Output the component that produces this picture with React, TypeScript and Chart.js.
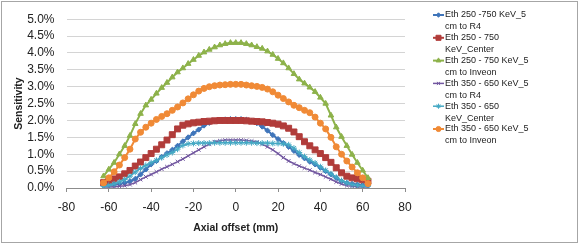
import React, { useEffect, useRef } from "react";
import { Chart, registerables } from "chart.js";
import { drawPoint } from "chart.js/helpers";

Chart.register(...registerables);

const axialOffsets = [
  -62.5, -60, -57.5, -55, -52.5, -50, -47.5, -45, -42.5, -40, -37.5, -35, -32.5, -30, -27.5, -25, -22.5, -20, -17.5, -15, -12.5, -10, -7.5, -5, -2.5,
  0, 2.5, 5, 7.5, 10, 12.5, 15, 17.5, 20, 22.5, 25, 27.5, 30, 32.5, 35, 37.5, 40, 42.5, 45, 47.5, 50, 52.5, 55, 57.5, 60, 62.5,
];

// Sensitivity in percent
const eth250_750_R4 = [
  0.08, 0.09, 0.1, 0.12, 0.15, 0.2, 0.27, 0.4, 0.55, 0.7, 0.8, 0.92, 1.03, 1.13, 1.25, 1.38, 1.5, 1.62, 1.73, 1.85, 1.93, 1.98, 2.02, 2.03, 2.04,
  2.04, 2.04, 2.02, 1.98, 1.92, 1.82, 1.7, 1.57, 1.45, 1.33, 1.22, 1.1, 0.98, 0.88, 0.78, 0.7, 0.6, 0.5, 0.4, 0.3, 0.2, 0.15, 0.12, 0.1, 0.09, 0.08,
];
const eth250_750_Center = [
  0.16, 0.22, 0.27, 0.33, 0.42, 0.52, 0.65, 0.77, 0.9, 1.02, 1.15, 1.28, 1.42, 1.58, 1.75, 1.86, 1.9, 1.93, 1.95, 1.97, 1.98, 1.99, 2.0, 2.0, 2.0,
  2.0, 2.0, 1.99, 1.98, 1.97, 1.96, 1.94, 1.92, 1.89, 1.84, 1.77, 1.66, 1.52, 1.37, 1.25, 1.13, 1.02, 0.9, 0.76, 0.6, 0.45, 0.35, 0.3, 0.27, 0.24, 0.2,
];
const eth250_750_Inveon = [
  0.35, 0.55, 0.75, 1.0, 1.25, 1.55, 1.9, 2.2, 2.45, 2.62, 2.8, 2.97, 3.12, 3.28, 3.43, 3.55, 3.68, 3.8, 3.92, 4.02, 4.1, 4.17, 4.23, 4.27, 4.3,
  4.3, 4.3, 4.27, 4.23, 4.18, 4.13, 4.05, 3.95, 3.83, 3.7, 3.55, 3.38, 3.22, 3.1, 2.98, 2.85, 2.68, 2.5, 2.15, 1.8, 1.52, 1.25, 0.99, 0.75, 0.52, 0.3,
];
const eth350_650_R4 = [
  0.03, 0.03, 0.04, 0.05, 0.07, 0.1, 0.16, 0.25, 0.33, 0.4, 0.48, 0.56, 0.63, 0.7, 0.78, 0.86, 0.95, 1.04, 1.13, 1.22, 1.3, 1.37, 1.4, 1.42, 1.42,
  1.42, 1.42, 1.41, 1.39, 1.36, 1.3, 1.22, 1.13, 1.02, 0.9, 0.8, 0.72, 0.65, 0.59, 0.53, 0.46, 0.4, 0.33, 0.26, 0.18, 0.12, 0.07, 0.05, 0.04, 0.03, 0.03,
];
const eth350_650_Center = [
  0.05, 0.08, 0.12, 0.18, 0.25, 0.35, 0.47, 0.58, 0.67, 0.75, 0.82, 0.9, 0.98, 1.05, 1.15, 1.26, 1.31, 1.32, 1.33, 1.33, 1.33, 1.34, 1.34, 1.34, 1.34,
  1.34, 1.34, 1.34, 1.34, 1.33, 1.33, 1.33, 1.32, 1.32, 1.31, 1.28, 1.18, 1.05, 0.93, 0.83, 0.74, 0.63, 0.52, 0.42, 0.32, 0.22, 0.15, 0.1, 0.08, 0.06, 0.05,
];
const eth350_650_Inveon = [
  0.15, 0.3, 0.48, 0.68, 0.9, 1.15, 1.45, 1.65, 1.8, 1.92, 2.03, 2.12, 2.2, 2.3, 2.4, 2.52, 2.64, 2.76, 2.87, 2.95, 3.0, 3.03, 3.05, 3.06, 3.07,
  3.07, 3.07, 3.05, 3.03, 3.01, 2.98, 2.93, 2.85, 2.75, 2.65, 2.55, 2.45, 2.38, 2.3, 2.23, 2.1, 1.92, 1.75, 1.5, 1.22, 1.0, 0.8, 0.62, 0.45, 0.3, 0.13,
];

const seriesLegendLines = [
  ["Eth 250 -750 KeV_5", "cm to R4"],
  ["Eth 250 - 750", "KeV_Center"],
  ["Eth 250 - 750 KeV_5", "cm to Inveon"],
  ["Eth 350 - 650 KeV_5", "cm to R4"],
  ["Eth 350 - 650", "KeV_Center"],
  ["Eth 350 - 650 KeV_5", "cm to Inveon"],
];
const seriesValues = [eth250_750_R4, eth250_750_Center, eth250_750_Inveon, eth350_650_R4, eth350_650_Center, eth350_650_Inveon];
const seriesColors = ["#3F75BA", "#B13C3A", "#8DB24A", "#7257A0", "#45A9C4", "#F08A36"];
const seriesMarkers = ["rectRot", "rect", "triangle", "crossRot", "star", "circle"];
const seriesMarkerRadius = [2.6, 4.2, 3.2, 2.6, 3.0, 3.0];
const seriesLineWidth = [2, 2, 2, 1.5, 1.5, 2];

const yTickMin = 0;
const yTickMax = 5;
const yTickStep = 0.5;
const xTickMin = -80;
const xTickMax = 80;
const xTickStep = 20;

const FONT = "'Liberation Sans', Arial, sans-serif";

const frameAndLegend = {
  id: "frameAndLegend",
  beforeDraw(chart: any) {
    const ctx = chart.ctx;
    ctx.save();
    ctx.fillStyle = "#ffffff";
    ctx.fillRect(0, 0, chart.width, chart.height);
    ctx.restore();
  },
  afterDraw(chart: any) {
    const ctx = chart.ctx;
    ctx.save();
    ctx.strokeStyle = "#a6a6a6";
    ctx.lineWidth = 1;
    ctx.strokeRect(1.5, 1.5, 576, 241);
    ctx.font = "9px " + FONT;
    ctx.textBaseline = "middle";
    ctx.textAlign = "left";
    chart.data.datasets.forEach((ds: any, i: number) => {
      const y1 = 15 + i * 22.8;
      ctx.strokeStyle = ds.borderColor;
      ctx.lineWidth = ds.borderWidth;
      ctx.beginPath();
      ctx.moveTo(433, y1);
      ctx.lineTo(444, y1);
      ctx.stroke();
      ctx.fillStyle = ds.backgroundColor;
      ctx.lineWidth = 1;
      drawPoint(ctx, { pointStyle: ds.pointStyle, radius: ds.pointRadius * 0.85, borderWidth: 1, rotation: 0 }, 438.5, y1);
      ctx.fillStyle = "#222";
      const lines = seriesLegendLines[i];
      ctx.fillText(lines[0], 445, y1);
      ctx.fillText(lines[1], 445, y1 + 12);
    });
    ctx.restore();
  },
};

export default function App() {
  const ref = useRef<HTMLCanvasElement>(null);
  useEffect(() => {
    document.body.style.margin = "0";
    const datasets = seriesValues.map((vals, i) => ({
      label: seriesLegendLines[i].join(" "),
      data: vals.map((v, j) => ({ x: axialOffsets[j], y: v })),
      borderColor: seriesColors[i],
      backgroundColor: seriesColors[i],
      pointBackgroundColor: seriesColors[i],
      pointBorderColor: seriesColors[i],
      pointStyle: seriesMarkers[i],
      pointRadius: seriesMarkerRadius[i],
      pointBorderWidth: 1,
      borderWidth: seriesLineWidth[i],
      showLine: true,
      tension: 0,
      order: 5 - i,
    }));
    const chart = new Chart(ref.current!, {
      type: "scatter",
      data: { datasets },
      options: {
        animation: false,
        responsive: false,
        layout: { padding: { left: 0, right: 174, top: 12, bottom: 0 } },
        plugins: { legend: { display: false }, tooltip: { enabled: false } },
        scales: {
          x: {
            type: "linear",
            min: xTickMin,
            max: xTickMax,
            ticks: { stepSize: xTickStep, autoSkip: false, maxRotation: 0, color: "#222", font: { family: FONT, size: 12 }, padding: 8 },
            grid: { drawOnChartArea: false, drawTicks: true, tickLength: 4, color: "#8c8c8c" },
            border: { display: true, color: "#8c8c8c" },
            title: {
              display: true,
              text: "Axial offset (mm)",
              color: "#222",
              font: { family: FONT, size: 10.5, weight: "bold" },
              padding: { top: 0, bottom: 10.5 },
            },
            afterFit: (s: any) => {
              s.height = 57;
            },
          },
          y: {
            min: yTickMin,
            max: yTickMax,
            ticks: {
              stepSize: yTickStep,
              autoSkip: false,
              color: "#222",
              font: { family: FONT, size: 12 },
              padding: 12,
              callback: (v: any) => Number(v).toFixed(1) + "%",
            },
            grid: { color: "#d4d4d4", drawTicks: false },
            border: { display: false },
            title: {
              display: true,
              text: "Sensitivity",
              color: "#222",
              font: { family: FONT, size: 10.5, weight: "bold" },
              padding: { top: 12.5, bottom: 0 },
            },
            afterFit: (s: any) => {
              s.width = 66.5;
            },
          },
        },
      },
      plugins: [frameAndLegend],
    });
    return () => chart.destroy();
  }, []);
  return (
    <div style={{ width: 579, height: 245 }}>
      <canvas ref={ref} width={579} height={245} style={{ display: "block" }} />
    </div>
  );
}
